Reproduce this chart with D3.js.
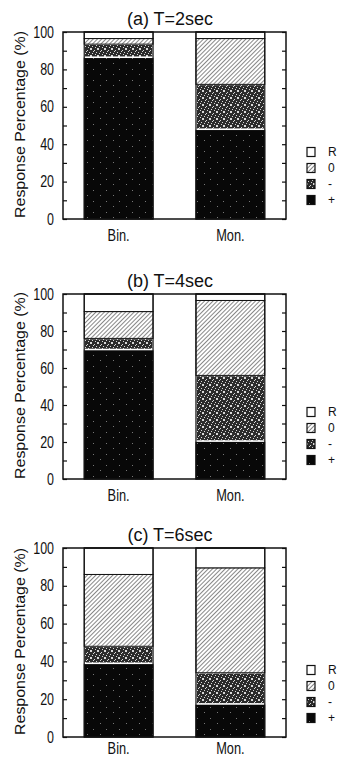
<!DOCTYPE html>
<html>
<head>
<meta charset="utf-8">
<script src="https://cdn.jsdelivr.net/npm/d3@7"></script>
<style>
  body { margin: 0; background: #fff; }
  svg { display: block; }
  text { font-family: "Liberation Sans", Arial, Helvetica, sans-serif; fill: #111; }
</style>
</head>
<body>
<svg class="chart-svg" width="339" height="758"></svg>
<script>
const width = 339;
const height = 758;

// data (percent of responses)
const categories = ["Bin.", "Mon."];
const responses = ["+", "-", "0", "R"];
const legendLabels = ["R", "0", "-", "+"];
const titles = ["(a) T=2sec", "(b) T=4sec", "(c) T=6sec"];
const yTicks = [0, 10, 20, 30, 40, 50, 60, 70, 80, 90, 100];
const yTickLabels = [0, 20, 40, 60, 80, 100];

const t2Plus = [86.5, 48.0];
const t2Minus = [7.0, 24.0];
const t2Zero = [3.0, 24.5];
const t2R = [3.5, 3.5];

const t4Plus = [70.0, 20.5];
const t4Minus = [6.0, 35.5];
const t4Zero = [14.5, 40.5];
const t4R = [9.5, 3.5];

const t6Plus = [39.0, 17.5];
const t6Minus = [9.0, 16.5];
const t6Zero = [38.0, 55.5];
const t6R = [14.0, 10.5];

const panelData = [
  [t2Plus, t2Minus, t2Zero, t2R],
  [t4Plus, t4Minus, t4Zero, t4R],
  [t6Plus, t6Minus, t6Zero, t6R]
];

// layout
const frameLeft = 63;
const frameRight = 286;
const panelTops = [32, 294, 548];
const panelBottoms = [219, 479, 737];

const svg = d3.select(".chart-svg");
const defs = svg.append("defs");

// hatch for "0"
const hatch = defs.append("pattern")
  .attr("id", "hatch")
  .attr("patternUnits", "userSpaceOnUse")
  .attr("width", 3).attr("height", 3)
  .attr("patternTransform", "rotate(45)");
hatch.append("rect").attr("width", 3).attr("height", 3).attr("fill", "#fff");
hatch.append("line").attr("x1", 0).attr("y1", 0).attr("x2", 0).attr("y2", 3)
  .attr("stroke", "#111").attr("stroke-width", 1);

// stipple for "-"
const stip = defs.append("pattern")
  .attr("id", "stipple")
  .attr("patternUnits", "userSpaceOnUse")
  .attr("width", 7).attr("height", 7);
stip.append("rect").attr("width", 7).attr("height", 7).attr("fill", "#2b2b2b");
[[0,0],[3,1],[5,3],[1,4],[4,5],[6,6],[2,2],[0,6],[6,0]].forEach(([px, py]) => {
  stip.append("rect").attr("x", px).attr("y", py).attr("width", 1).attr("height", 1).attr("fill", "#d8d8d8");
});

// sparse specks on black for "+"
const speck = defs.append("pattern")
  .attr("id", "speck")
  .attr("patternUnits", "userSpaceOnUse")
  .attr("width", 13).attr("height", 11);
speck.append("rect").attr("width", 13).attr("height", 11).attr("fill", "#080808");
[[2,3],[9,8]].forEach(([px, py]) => {
  speck.append("rect").attr("x", px).attr("y", py).attr("width", 1).attr("height", 1).attr("fill", "#777");
});

const fills = { "+": "url(#speck)", "-": "url(#stipple)", "0": "url(#hatch)", "R": "#fff" };

const x = d3.scaleBand()
  .domain(categories)
  .range([frameLeft, frameRight])
  .paddingInner(0.384)
  .paddingOuter(0.19);

panelData.forEach((series, p) => {
  const top = panelTops[p];
  const bottom = panelBottoms[p];
  const g = svg.append("g").attr("class", "panel");

  const y = d3.scaleLinear().domain([0, 100]).range([bottom, top]);

  const rows = categories.map((c, i) => {
    const row = { cat: c };
    responses.forEach((r, k) => { row[r] = series[k][i]; });
    return row;
  });
  const stacked = d3.stack().keys(responses)(rows);

  g.selectAll(".layer")
    .data(stacked)
    .enter()
    .append("g")
    .attr("class", "layer")
    .each(function (layer) {
      d3.select(this).selectAll("rect")
        .data(layer)
        .enter()
        .append("rect")
        .attr("x", d => x(d.data.cat))
        .attr("y", d => y(Math.min(d[1], 100)))
        .attr("width", x.bandwidth())
        .attr("height", d => y(d[0]) - y(Math.min(d[1], 100)))
        .attr("fill", fills[layer.key])
        .attr("stroke", layer.key === "-" ? "#fff" : "#111")
        .attr("stroke-width", layer.key === "-" ? 1.6 : 1);
    });

  // bar outlines
  g.selectAll(".bar-outline")
    .data(categories)
    .enter()
    .append("rect")
    .attr("x", d => x(d))
    .attr("y", y(100))
    .attr("width", x.bandwidth())
    .attr("height", y(0) - y(100))
    .attr("fill", "none")
    .attr("stroke", "#111")
    .attr("stroke-width", 1.2);

  // axes
  const left = g.append("g")
    .attr("transform", `translate(${frameLeft},0)`)
    .call(d3.axisLeft(y).tickValues(yTicks).tickSize(-4).tickPadding(11.5)
      .tickFormat(d => yTickLabels.includes(d) ? d : ""));
  left.select(".domain").remove();
  left.selectAll("line").attr("stroke", "#111").attr("stroke-width", 1.2);
  left.selectAll("text")
    .attr("font-size", 16)
    .attr("transform", "scale(0.78,1)")
    .style("font-family", "'Liberation Sans', Arial, sans-serif");

  const right = g.append("g")
    .attr("transform", `translate(${frameRight},0)`)
    .call(d3.axisRight(y).tickValues(yTicks).tickSize(-4).tickFormat(""));
  right.select(".domain").remove();
  right.selectAll("line").attr("stroke", "#111").attr("stroke-width", 1.2);

  // frame
  g.append("rect")
    .attr("x", frameLeft).attr("y", top)
    .attr("width", frameRight - frameLeft).attr("height", bottom - top)
    .attr("fill", "none").attr("stroke", "#111").attr("stroke-width", 1.5);

  // x labels
  const xLabY = Math.min(bottom + 22, height - 4);
  g.selectAll(".xlab")
    .data(categories)
    .enter()
    .append("text")
    .attr("class", "xlab")
    .attr("transform", d => `translate(${x(d) + x.bandwidth() / 2},${xLabY}) scale(0.8,1)`)
    .attr("text-anchor", "middle")
    .attr("font-size", 16)
    .text(d => d);

  // title
  g.append("text")
    .attr("x", 170)
    .attr("y", top - 7)
    .attr("text-anchor", "middle")
    .attr("font-size", 18)
    .text(titles[p]);

  // y label
  g.append("text")
    .attr("transform", `translate(25,${(top + bottom) / 2 - 1}) rotate(-90)`)
    .attr("text-anchor", "middle")
    .attr("font-size", 14.5)
    .attr("textLength", 187)
    .attr("lengthAdjust", "spacingAndGlyphs")
    .text("Response Percentage (%)");

  // legend
  const leg = g.selectAll(".leg")
    .data(legendLabels)
    .enter()
    .append("g")
    .attr("class", "leg")
    .attr("transform", (d, i) => `translate(307,${bottom - 19 - 16 * (3 - i)})`);
  leg.append("rect")
    .attr("x", 0).attr("y", -4.5)
    .attr("width", 8).attr("height", 9)
    .attr("fill", d => fills[d])
    .attr("stroke", "#111")
    .attr("stroke-width", 1.2);
  leg.append("text")
    .attr("x", 21)
    .attr("dy", "0.35em")
    .attr("font-size", 12)
    .text(d => d);
});
</script>
</body>
</html>
